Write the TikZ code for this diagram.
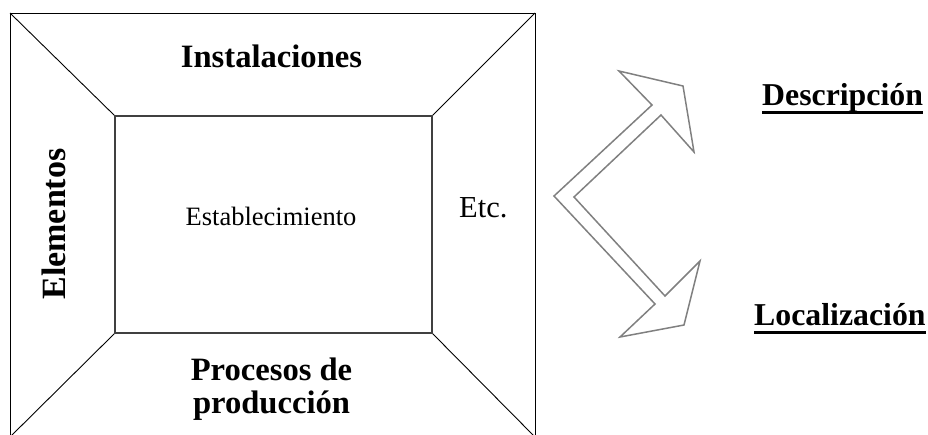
\documentclass[tikz,border=0pt]{standalone}
\usepackage{fontspec}
\setmainfont{Liberation Serif}
\begin{document}
\begin{tikzpicture}[x=1pt,y=-1pt,
    txt/.style={inner sep=0pt,anchor=base,font=\fontsize{32.6}{29}\selectfont\bfseries},
    side/.style={txt,anchor=base west,font=\fontsize{31.8}{29}\selectfont\bfseries},
    ul/.style={line width=3pt},
    frame/.style={line width=0.9pt,black},
    inner/.style={line width=1.4pt,black!75},
    bent/.style={line width=1.5pt,black!50,line join=miter}]
    \useasboundingbox (0,0) rectangle (928,434);
    \clip (0,0) rectangle (928,434);
    \coordinate (otl) at (10,13);   \coordinate (otr) at (535,13);
    \coordinate (obl) at (10,437);  \coordinate (obr) at (535,437);
    \coordinate (itl) at (115,116); \coordinate (itr) at (432,116);
    \coordinate (ibl) at (115,333); \coordinate (ibr) at (432,333);
    \draw [frame] (otl) -- (otr) -- (obr) -- (obl) -- cycle;
    \draw [frame] (otl) -- (itl); \draw [frame] (otr) -- (itr);
    \draw [frame] (obl) -- (ibl); \draw [frame] (obr) -- (ibr);
    \draw [inner] (itl) -- (itr) -- (ibr) -- (ibl) -- cycle;
    \node [txt] (inst) at (271.5,67) {Instalaciones};
    \node [txt,rotate=90,font=\fontsize{34}{30}\selectfont\bfseries] (elem) at (65,224) {Elementos};
    \node [txt] (proc1) at (271.5,380) {Procesos de};
    \node [txt] (proc2) at (271.5,413) {producción};
    \node [txt,font=\fontsize{26.5}{30}\selectfont] (estab) at (271,225) {Establecimiento};
    \node [txt,anchor=base west,font=\fontsize{30.5}{30}\selectfont] (etc) at (459,217) {Etc.};
    \node [side] (desc) at (762,105) {Descripción};
    \node [side] (loc) at (754,325) {Localización};
    \draw [ul] ([yshift=-7pt]desc.base west) -- ([yshift=-7pt]desc.base east);
    \draw [ul] ([yshift=-7pt]loc.base west) -- ([yshift=-7pt]loc.base east);
    % hollow double arrow
    \draw [bent] (554,196) -- (652,105) -- (619,71) -- (683,86) -- (694,152) -- (661,115)
        -- (574,197) -- (665,296) -- (700,261) -- (684,325) -- (620,337) -- (655,304) -- cycle;
\end{tikzpicture}
\end{document}
